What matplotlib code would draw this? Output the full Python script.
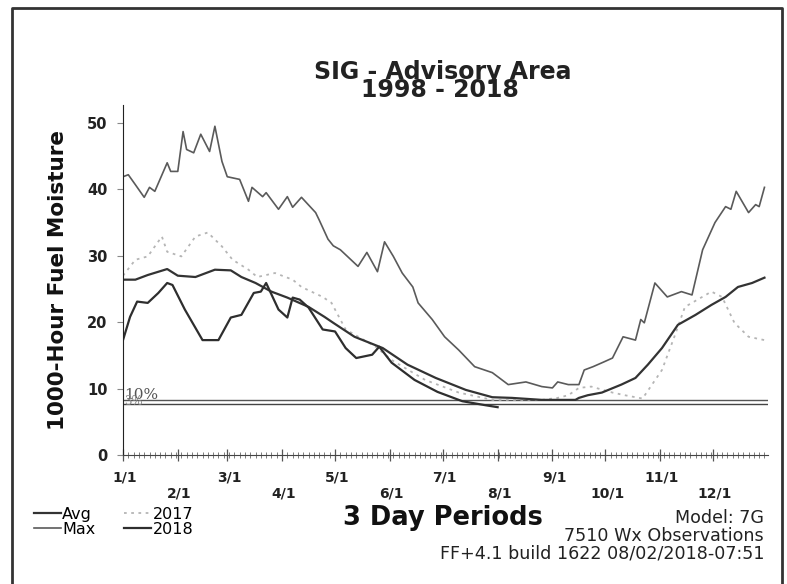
import matplotlib.pyplot as plt
import numpy as np

# day-of-year / value pairs
max_days = [0, 3, 7, 12, 15, 18, 25, 27, 31, 34, 36, 40, 44, 49, 52, 56, 59, 66, 71, 73,
            79, 81, 88, 93, 96, 101, 109, 111, 116, 119, 123, 133, 138, 144, 148, 153, 158,
            164, 167, 175, 182, 190, 199, 209, 212, 218, 228, 237, 243, 246, 252, 258, 261,
            266, 272, 277, 283, 290, 293, 295, 301, 308, 316, 322, 328, 335, 341, 344, 347,
            354, 358, 360, 363]
max_vals = [41.9, 42.2, 40.7, 38.8, 40.3, 39.7, 44.0, 42.7, 42.7, 48.7, 46.0, 45.5, 48.3,
            45.7, 49.5, 44.2, 41.9, 41.5, 38.2, 40.3, 38.9, 39.5, 37.0, 38.9, 37.3, 38.8,
            36.5, 35.4, 32.5, 31.5, 30.9, 28.4, 30.5, 27.6, 32.1, 29.9, 27.4, 25.3, 22.9,
            20.4, 17.8, 15.8, 13.3, 12.4, 11.8, 10.6, 11.0, 10.3, 10.1, 11.0, 10.6, 10.6,
            12.8, 13.3, 14.0, 14.6, 17.8, 17.3, 20.4, 19.9, 25.9, 23.8, 24.6, 24.1, 30.9,
            35.0, 37.4, 37.0, 39.7, 36.5, 37.7, 37.4, 40.3]

avg_days = [0, 7, 14, 25, 31, 41, 52, 61, 67, 75, 84, 93, 105, 114, 119, 131, 147, 161,
            177, 194, 209, 220, 237, 256, 258, 263, 271, 282, 290, 297, 305, 314, 324, 333,
            341, 348, 356, 363]
avg_vals = [26.4, 26.4, 27.1, 28.0, 27.0, 26.8, 27.9, 27.8, 26.8, 25.9, 24.6, 23.7, 22.3,
            20.8, 19.9, 17.8, 16.1, 13.6, 11.6, 9.8, 8.7, 8.6, 8.3, 8.3, 8.6, 9.0, 9.4,
            10.6, 11.6, 13.6, 16.1, 19.6, 21.1, 22.6, 23.8, 25.3, 25.9, 26.7]

y2017_days = [0, 7, 14, 22, 25, 33, 41, 48, 56, 62, 71, 76, 86, 96, 101, 113, 118, 126,
              143, 152, 171, 190, 209, 237, 246, 252, 258, 265, 277, 284, 290, 294, 305,
              312, 318, 333, 339, 346, 354, 363]
y2017_vals = [27.0, 29.4, 29.9, 32.9, 30.6, 29.9, 32.9, 33.5, 31.4, 29.4, 27.9, 26.8, 27.4,
              26.4, 25.3, 23.8, 22.9, 18.9, 16.3, 14.3, 11.3, 9.4, 8.3, 8.3, 8.6, 9.0, 10.1,
              10.3, 9.4, 9.0, 8.7, 8.5, 12.8, 17.8, 22.3, 24.6, 23.8, 19.9, 17.8, 17.3]

y2018_days = [0, 4, 8, 14, 20, 25, 28, 35, 45, 54, 61, 67, 74, 78, 81, 88, 93, 96, 100,
              105, 113, 120, 126, 132, 141, 145, 152, 165, 178, 192, 205, 212]
y2018_vals = [17.3, 20.8, 23.1, 22.9, 24.4, 25.9, 25.6, 21.9, 17.3, 17.3, 20.7, 21.1, 24.4,
              24.6, 25.9, 21.9, 20.7, 23.7, 23.4, 22.2, 18.9, 18.6, 16.1, 14.6, 15.1, 16.3,
              13.9, 11.3, 9.5, 8.1, 7.5, 7.2]

pct10 = 8.3
pct3 = 7.7

month_days = [0, 31, 59, 90, 120, 151, 181, 212, 243, 273, 304, 334]
month_labels = ["1/1", "2/1", "3/1", "4/1", "5/1", "6/1", "7/1", "8/1", "9/1", "10/1",
                "11/1", "12/1"]

W, H = 787, 584
fig = plt.figure(figsize=(W / 100, H / 100), dpi=100)
ax = fig.add_axes([123 / W, 1 - 455 / H, 645 / W, 350 / H])

ax.axhline(pct10, color="#555555", lw=1.0)
ax.axhline(pct3, color="#444444", lw=1.0)
ax.text(0.5, 9.1, "10%", family="DejaVu Serif", fontsize=11, color="#555555", va="center")
ax.text(0.5, 8.0, "3%", family="DejaVu Serif", fontsize=8.5, color="#888888", va="center")

l_max, = ax.plot(max_days, max_vals, color="#5a5a5a", lw=1.2, label="Max")
l_2017, = ax.plot(y2017_days, y2017_vals, color="#b5b5b5", lw=1.3,
                  linestyle=(0, (1.5, 2.5)), label="2017")
l_avg, = ax.plot(avg_days, avg_vals, color="#333333", lw=1.6, label="Avg")
l_2018, = ax.plot(y2018_days, y2018_vals, color="#2e2e2e", lw=1.6, label="2018")

ax.set_xlim(0, 365)
ax.set_ylim(0, 52.7)
for s in ["top", "right"]:
    ax.spines[s].set_visible(False)
ax.spines["left"].set_color("#222222")
ax.spines["bottom"].set_color("#444444")

ax.set_yticks([0, 10, 20, 30, 40, 50])
ax.tick_params(axis="y", length=4, width=0.8, color="#888888", pad=7)
for lbl in ax.get_yticklabels():
    lbl.set_fontweight("bold")
    lbl.set_fontsize(10.5)
    lbl.set_color("#222222")

ax.set_xticks(month_days)
ax.set_xticklabels([])
ax.set_xticks(np.arange(0, 366, 3), minor=True)
ax.tick_params(axis="x", which="major", direction="inout", length=9, width=0.9,
               color="#555555")
ax.tick_params(axis="x", which="minor", direction="inout", length=5, width=0.6,
               color="#666666")
xt = ax.get_xaxis_transform()
for i, (d, m) in enumerate(zip(month_days, month_labels)):
    yy = -0.063 if i % 2 == 0 else -0.109
    ax.text(d + 1, yy, m, transform=xt, ha="center", va="center", fontsize=10,
            fontweight="bold", color="#222222")

ax.set_ylabel("1000-Hour Fuel Moisture", fontsize=15.5, fontweight="bold",
              color="#111111", labelpad=14)

fig.text(443 / W, 1 - 72 / H, "SIG - Advisory Area", ha="center", va="center",
         fontsize=17, fontweight="bold", color="#222222")
fig.text(440 / W, 1 - 90 / H, "1998 - 2018", ha="center", va="center",
         fontsize=17, fontweight="bold", color="#222222")

fig.text(443 / W, 1 - 518 / H, "3 Day Periods", ha="center", va="center",
         fontsize=18.5, fontweight="bold", color="#111111")
fig.text(764 / W, 1 - 518 / H, "Model: 7G", ha="right", va="center", fontsize=12.6,
         color="#222222")
fig.text(764 / W, 1 - 536 / H, "7510 Wx Observations", ha="right", va="center",
         fontsize=12.6, color="#222222")
fig.text(764 / W, 1 - 553 / H, "FF+4.1 build 1622 08/02/2018-07:51", ha="right",
         va="center", fontsize=12.6, color="#222222")

fig.legend(handles=[l_avg, l_max, l_2017, l_2018], loc="upper left",
           bbox_to_anchor=(24 / W, 1 - 497 / H), ncol=2, frameon=False, fontsize=11.5,
           handlelength=1.7, handletextpad=0.1, columnspacing=1.8, labelspacing=0.0,
           borderpad=0.1)

# outer frame of the scanned page
fig.add_artist(plt.Line2D([12 / W, 12 / W, 782 / W, 782 / W],
                          [0, 1 - 8 / H, 1 - 8 / H, 0], transform=fig.transFigure,
                          color="#333333", lw=2))

fig.savefig("out.png", dpi=100)
